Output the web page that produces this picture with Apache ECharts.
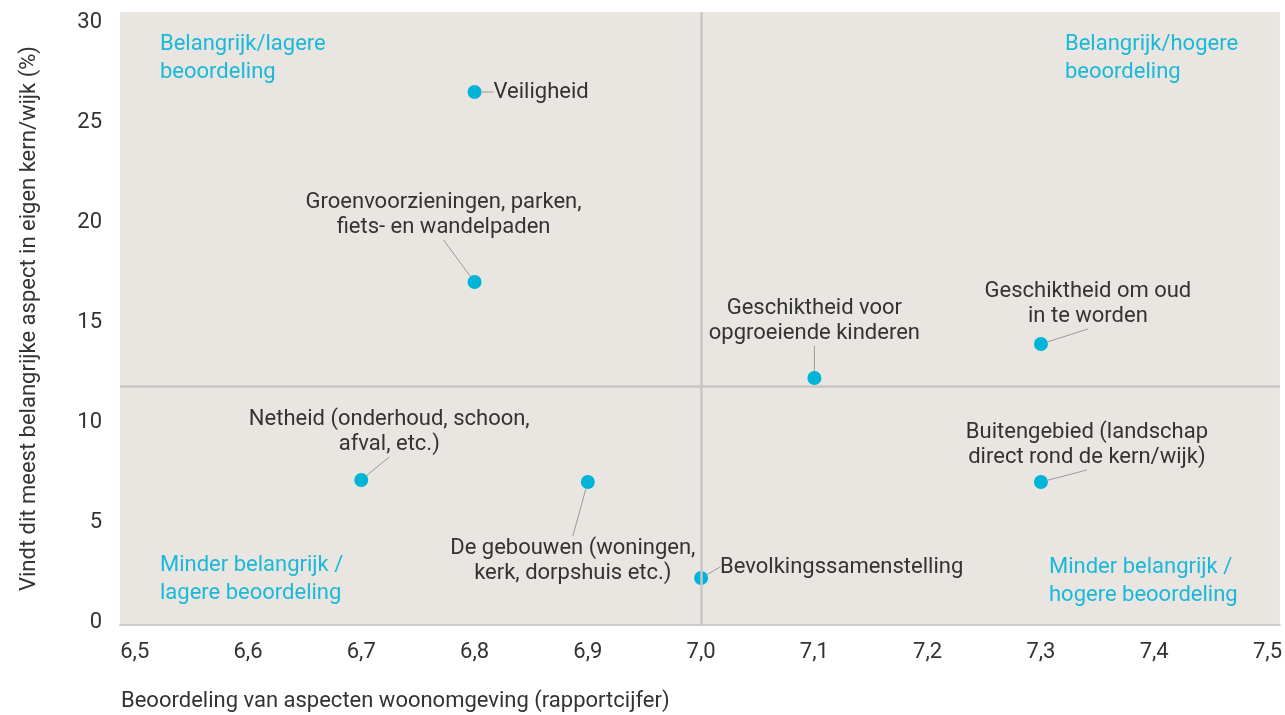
<!DOCTYPE html>
<html>
<head>
<meta charset="utf-8">
<script src="https://cdn.jsdelivr.net/npm/echarts@6/dist/echarts.min.js"></script>
<style>
  html, body { margin: 0; padding: 0; background: #fff; }
  #chart { width: 1285px; height: 715px; }
</style>
</head>
<body>
<div id="chart"></div>
<script>
// aspecten woonomgeving
const aspects = [
  'Veiligheid',
  'Groenvoorzieningen, parken,\nfiets- en wandelpaden',
  'Geschiktheid voor\nopgroeiende kinderen',
  'Geschiktheid om oud\nin te worden',
  'Netheid (onderhoud, schoon,\nafval, etc.)',
  'De gebouwen (woningen,\nkerk, dorpshuis etc.)',
  'Bevolkingssamenstelling',
  'Buitengebied (landschap\ndirect rond de kern/wijk)'
];
// rapportcijfer
const scores = [6.8, 6.8, 7.1, 7.3, 6.7, 6.9, 7.0, 7.3];
// % vindt dit meest belangrijk
const shares = [26.5, 17.0, 12.2, 13.9, 7.1, 7.0, 2.2, 7.0];

const xTicks = [6.5, 6.6, 6.7, 6.8, 6.9, 7.0, 7.1, 7.2, 7.3, 7.4, 7.5];
const yTicks = [0, 5, 10, 15, 20, 25, 30];

// kwadrantgrenzen
const splitX = 7.0;
const splitY = 11.8;

const quadrantLabels = [
  'Belangrijk/lagere\nbeoordeling',
  'Belangrijk/hogere\nbeoordeling',
  'Minder belangrijk /\nlagere beoordeling',
  'Minder belangrijk /\nhogere beoordeling'
];

// label offsets (px) relative to the point
const labelShift = [
  {pos: 'right', dx: 0, dy: 0},
  {pos: 'inside', dx: -31, dy: -67},
  {pos: 'inside', dx: 0, dy: -57},
  {pos: 'inside', dx: 47, dy: -40},
  {pos: 'inside', dx: 28, dy: -48},
  {pos: 'inside', dx: -15, dy: 79},
  {pos: 'right', dx: 0, dy: -11},
  {pos: 'inside', dx: 46, dy: -37}
];
const quadrantPos = [
  {left: 160, top: 30},
  {left: 1065, top: 30},
  {left: 160, top: 551},
  {left: 1049, top: 553}
];

const font = 'Roboto, "DejaVu Sans", sans-serif';
const textColor = '#333';
const cyan = '#1ab8d9';
const fs = 22;

let chart = echarts.init(document.getElementById('chart'));

let points = scores.map((x, i) => ({
  name: aspects[i],
  value: [x, shares[i]],
  label: {
    position: labelShift[i].pos,
    align: labelShift[i].pos === 'right' ? 'left' : 'center'
  }
}));

let option = {
  animation: false,
  textStyle: {fontFamily: font},
  grid: {
    left: 120,
    right: 3,
    top: 12,
    bottom: 90,
    show: true,
    backgroundColor: '#e9e6e2',
    borderWidth: 0
  },
  xAxis: {
    type: 'value',
    min: 6.487,
    max: 7.511,
    name: 'Beoordeling van aspecten woonomgeving (rapportcijfer)',
    nameLocation: 'start',
    nameGap: -1,
    nameTextStyle: {
      align: 'left',
      verticalAlign: 'top',
      fontSize: fs,
      color: textColor,
      padding: [65, 0, 0, 0]
    },
    axisLine: {show: true, onZero: false, lineStyle: {color: '#cfcdca', width: 2}},
    axisTick: {show: false},
    splitLine: {show: false},
    axisLabel: {
      customValues: xTicks,
      margin: 16,
      fontSize: fs,
      color: textColor,
      formatter: (v) => v.toFixed(1).replace('.', ',')
    }
  },
  yAxis: {
    type: 'value',
    min: -0.15,
    max: 30.5,
    name: 'Vindt dit meest belangrijke aspect in eigen kern/wijk (%)',
    nameLocation: 'middle',
    nameGap: 80,
    nameTextStyle: {fontSize: fs, color: textColor},
    axisLine: {show: false},
    axisTick: {show: false},
    splitLine: {show: false},
    axisLabel: {
      customValues: yTicks,
      margin: 18,
      fontSize: fs,
      color: textColor
    }
  },
  graphic: quadrantLabels.map((t, i) => ({
    type: 'text',
    left: quadrantPos[i].left,
    top: quadrantPos[i].top,
    silent: true,
    style: {
      text: t,
      fill: cyan,
      font: fs + 'px ' + font,
      lineHeight: 28
    }
  })),
  series: [
    {
      type: 'scatter',
      data: [],
      silent: true,
      markLine: {
        silent: true,
        symbol: 'none',
        label: {show: false},
        lineStyle: {color: '#c8c6c3', width: 2.5, type: 'solid'},
        data: [{xAxis: splitX}, {yAxis: splitY}]
      }
    },
    {
      type: 'scatter',
      symbolSize: 14,
      itemStyle: {color: '#00b4d8', opacity: 1},
      data: points,
      label: {
        show: true,
        formatter: (p) => p.name,
        distance: 12,
        fontSize: fs,
        lineHeight: 25,
        color: textColor
      },
      labelLine: {
        show: true,
        lineStyle: {color: '#9a9a9a', width: 1}
      },
      labelLayout: (p) => ({
        dx: labelShift[p.dataIndex].dx,
        dy: labelShift[p.dataIndex].dy
      })
    }
  ]
};

chart.setOption(option);
</script>
</body>
</html>
